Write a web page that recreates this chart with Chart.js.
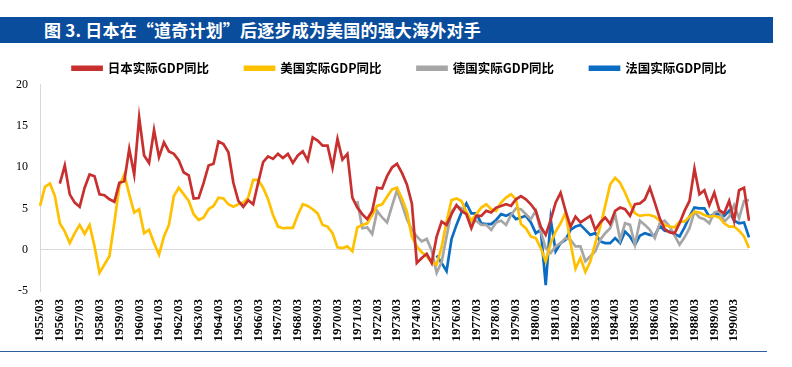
<!DOCTYPE html>
<html>
<head>
<meta charset="utf-8">
<script src="https://cdn.jsdelivr.net/npm/chart.js@4/dist/chart.umd.min.js"></script>
<style>
  html, body { margin: 0; padding: 0; background: #ffffff; }
  body { width: 792px; height: 367px; position: relative; overflow: hidden; }
  #titlebar { position: absolute; left: 0; top: 17px; width: 773px; height: 26px; background: #0a4d9c; z-index: 2;
    color: #ffffff; font-family: "Noto Sans CJK SC", sans-serif; font-weight: bold; font-size: 17px; line-height: 26px;
    padding-left: 44px; box-sizing: border-box; white-space: nowrap; letter-spacing: 0.2px; }
  #bottomline { position: absolute; left: 0; top: 351px; width: 767px; height: 1px; background: #2d5e9e; z-index: 2; }
  #wrap { position: absolute; left: 0; top: 0; width: 792px; height: 367px; z-index: 1; }
</style>
</head>
<body>
<div id="titlebar">图 3. 日本在“道奇计划”后逐步成为美国的强大海外对手</div>
<div id="bottomline"></div>
<div id="wrap"><canvas id="c" width="792" height="367"></canvas></div>
<script>
// ---- data ----
const startYear = 1955;
const endYear = 1990;
const quarterMonths = ["03", "06", "09", "12"];
const categories = [];
for (let y = startYear; y <= endYear; y++) {
  for (const m of quarterMonths) categories.push(y + "/" + m);
}

const seriesNames = ["日本实际GDP同比", "美国实际GDP同比", "德国实际GDP同比", "法国实际GDP同比"];

const japan = [null, null, null, null,
  8.0, 10.2, 6.7, 5.7, 5.2, 7.5, 9.1, 8.9, 6.7, 6.6, 6.1, 5.8, 8.1, 8.3, 12.2, 9.1,
  16.0, 11.4, 10.5, 14.5, 11.2, 13.0, 11.9, 11.6, 10.8, 9.35, 9.0, 6.2, 6.25, 8.1, 10.2, 10.4,
  13.1, 12.8, 11.8, 8.1, 5.9, 5.2, 6.0, 5.5, 8.1, 10.6, 11.3, 11.0, 11.6, 11.1, 11.6, 10.5,
  11.4, 11.9, 10.8, 13.6, 13.2, 12.6, 12.6, 9.95, 13.4, 10.9, 11.6, 6.3, 5.1, 4.3, 3.7, 4.7,
  7.5, 7.4, 8.9, 9.95, 10.4, 9.3, 7.9, 5.6, -1.6, -1.0, -0.5, -1.6, 1.6, 3.4, 3.0, 4.3,
  5.4, 4.7, 4.3, 2.6, 4.1, 4.1, 4.7, 4.5, 5.1, 5.3, 5.5, 5.3, 6.1, 6.5, 6.1, 5.5,
  4.7, 2.8, 1.8, 3.6, 5.7, 6.9, 4.7, 2.8, 4.0, 3.3, 3.7, 4.1, 2.4, 3.3, 3.9, 3.1,
  4.7, 5.1, 4.9, 4.1, 5.5, 5.6, 6.1, 7.5, 5.7, 3.8, 2.5, 2.1, 2.0, 3.2, 4.7, 5.9,
  9.8, 6.7, 7.2, 5.4, 6.9, 4.8, 4.4, 5.9, 3.5, 7.2, 7.5, 3.5];

const usa = [
  5.3, 7.6, 8.0, 6.5, 3.2, 2.2, 0.8, 2.0, 3.0, 1.9, 3.0, 0.4, -2.8, -1.8, -0.8, 3.3,
  7.7, 9.1, 6.7, 4.5, 4.9, 2.0, 2.4, 0.8, -0.6, 1.6, 3.0, 6.5, 7.5, 6.7, 5.9, 4.3,
  3.6, 3.9, 4.9, 5.3, 6.3, 6.2, 5.5, 5.2, 5.5, 5.7, 6.3, 8.45, 8.45, 7.5, 6.1, 4.2,
  2.8, 2.6, 2.65, 2.65, 4.2, 5.5, 5.3, 4.9, 4.4, 3.0, 2.8, 2.0, 0.3, 0.2, 0.4, -0.2,
  2.7, 3.0, 3.2, 4.2, 5.3, 5.5, 6.4, 7.3, 7.5, 6.2, 4.6, 1.6, 0.4, -0.3, -0.8, -1.5,
  -1.8, 0.3, 3.4, 6.0, 6.2, 5.9, 4.6, 3.5, 4.3, 5.1, 5.5, 4.9, 4.7, 5.7, 6.3, 6.7,
  6.1, 3.1, 2.6, 1.6, 1.4, 0.2, -1.4, 0.8, 2.2, 3.2, 4.5, 0.8, -2.3, -1.0, -2.7, -1.4,
  0.8, 2.8, 5.3, 7.9, 8.7, 8.1, 6.9, 5.5, 4.4, 4.1, 4.2, 4.2, 4.0, 3.5, 3.0, 2.8,
  2.7, 3.4, 3.4, 4.0, 4.6, 4.5, 4.2, 4.0, 4.1, 3.9, 3.2, 2.8, 2.8, 2.3, 1.6, 0.2];

const germany = [
  null, null, null, null, null, null, null, null, null, null, null, null, null, null, null, null,
  null, null, null, null, null, null, null, null, null, null, null, null, null, null, null, null,
  null, null, null, null, null, null, null, null, null, null, null, null, null, null, null, null,
  null, null, null, null, null, null, null, null, null, null, null, null, null, null, null, null,
  5.9, 2.6, 2.7, 1.9, 4.7, 3.9, 3.3, 5.3, 7.2, 5.5, 3.7, 2.4, 1.6, 1.0, 1.3, -0.1,
  -2.8, -1.5, 1.6, 4.6, 5.3, 5.0, 4.4, 3.3, 3.5, 3.0, 3.0, 2.4, 3.3, 3.5, 3.0, 4.2,
  5.0, 4.9, 4.3, 3.7, 4.7, 2.2, 0.2, -0.4, 0.4, 0.8, 1.4, 1.2, 0.4, 0.4, -1.4, -0.8,
  -0.2, 1.2, 2.0, 2.6, 4.3, 1.2, 3.2, 3.0, 0.6, 3.5, 3.0, 2.4, 1.4, 3.2, 3.5, 2.8,
  1.7, 0.6, 1.5, 2.6, 4.6, 3.9, 3.7, 3.2, 4.5, 4.7, 3.4, 4.0, 5.4, 3.8, 5.9, 6.0];

const france = [
  null, null, null, null, null, null, null, null, null, null, null, null, null, null, null, null,
  null, null, null, null, null, null, null, null, null, null, null, null, null, null, null, null,
  null, null, null, null, null, null, null, null, null, null, null, null, null, null, null, null,
  null, null, null, null, null, null, null, null, null, null, null, null, null, null, null, null,
  null, null, null, null, null, null, null, null, null, null, null, null, null, null, null, null,
  -0.7, -1.6, -2.6, 1.3, 3.0, 4.5, 5.6, 4.4, 4.4, 3.2, 3.1, 3.1, 3.6, 4.3, 4.1, 4.4,
  3.7, 3.9, 4.1, 3.3, 2.0, 2.4, -4.3, 3.7, -0.2, 0.8, 1.2, 2.4, 2.8, 3.0, 2.4, 1.8,
  2.0, 1.0, 0.8, 0.8, 1.4, 0.8, 2.2, 1.6, 0.6, 1.7, 2.0, 1.8, 1.7, 2.9, 2.3, 2.2,
  1.9, 1.6, 2.7, 4.0, 5.1, 5.0, 5.0, 4.0, 4.3, 4.3, 4.1, 4.7, 3.5, 3.2, 3.3, 1.5];

const yTickMin = -5;
const yTickMax = 20;
const yTickStep = 5;

// ---- styles ----
const colors = ["#c8302f", "#ffc000", "#a6a6a6", "#0a6cc2"];
const seriesData = [japan, usa, germany, france];

const legendShift = {
  id: "legendShift",
  afterLayout(chart) {
    if (chart.legend) {
      chart.legend.left += 25;
      chart.legend.right += 25;
    }
  }
};

new Chart(document.getElementById("c"), {
  type: "line",
  data: {
    labels: categories,
    datasets: seriesNames.map((name, k) => ({
      label: name,
      data: seriesData[k],
      borderColor: colors[k],
      backgroundColor: colors[k],
      borderWidth: 2.7,
      pointRadius: 0,
      pointHoverRadius: 0,
      tension: 0,
      spanGaps: false,
      fill: false
    }))
  },
  options: {
    responsive: false,
    animation: false,
    devicePixelRatio: 1,
    layout: { padding: { left: 0, right: 43, top: 26, bottom: 16 } },
    plugins: {
      tooltip: { enabled: false },
      legend: {
        display: true,
        position: "top",
        align: "center",
        labels: {
          boxWidth: 29,
          boxHeight: 3,
          padding: 36,
          color: "#000000",
          font: { family: "'Noto Sans CJK SC', sans-serif", size: 12.5, weight: "bold" }
        }
      }
    },
    scales: {
      x: {
        type: "category",
        offset: false,
        border: { display: false },
        grid: { display: false, drawTicks: false },
        afterFit(scale) { scale.height = 60; },
        ticks: {
          autoSkip: false,
          maxRotation: 90,
          minRotation: 90,
          padding: 8,
          color: "#000000",
          font: { family: "'Liberation Serif', 'Times New Roman', serif", size: 13, weight: "bold" },
          callback: function (val, idx) { return idx % 4 === 0 ? categories[idx] : null; }
        }
      },
      y: {
        min: yTickMin,
        max: yTickMax,
        afterFit(scale) { scale.width = 40; },
        border: { display: true, color: "#d9d9d9", width: 1 },
        grid: {
          drawTicks: false,
          color: (ctx) => (ctx.tick && ctx.tick.value === 0 ? "#d9d9d9" : "rgba(0,0,0,0)"),
          lineWidth: 1
        },
        ticks: {
          stepSize: yTickStep,
          padding: 12,
          color: "#000000",
          font: { family: "'Liberation Serif', 'Times New Roman', serif", size: 12 }
        }
      }
    }
  },
  plugins: [legendShift]
});
</script>
</body>
</html>
